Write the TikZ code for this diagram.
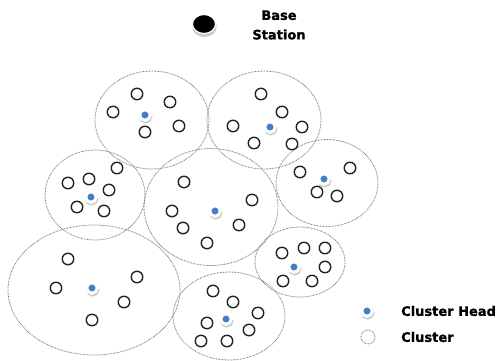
\documentclass[tikz,border=0pt]{standalone}
\usepackage{fontspec}
\setmainfont{DejaVu Sans}[BoldFeatures={FakeBold=1.2}]
\usetikzlibrary{shapes.geometric}
\definecolor{headblue}{RGB}{70,125,195}
\definecolor{ringgray}{RGB}{115,115,115}
\definecolor{nodeink}{RGB}{35,35,35}
\tikzset{
  cluster/.style={ellipse, draw=ringgray, line width=0.8pt,
    dash pattern=on 0.7pt off 0.8pt, inner sep=0pt},
  sensor/.style={circle, draw=nodeink, line width=1.4pt, fill=white,
    minimum size=11.5pt, inner sep=0pt},
  head/.style={circle, fill=headblue, draw=white, line width=3pt,
    minimum size=10.5pt, inner sep=0pt,
    preaction={draw=gray!40, fill=gray!40, line width=3pt,
      transform canvas={xshift=0.7pt, yshift=-1.8pt}}},
  basest/.style={ellipse, fill=black, draw=white, line width=1.2pt,
    minimum width=23pt, minimum height=19pt, inner sep=0pt,
    preaction={fill=gray!40, draw=gray!40, line width=1.4pt,
      transform canvas={xshift=0.5pt, yshift=-2.8pt}}},
  label/.style={font=\bfseries\fontsize{13}{19.5}\selectfont, inner sep=0pt,
    align=center},
}
\begin{document}
\begin{tikzpicture}[x=1pt,y=-1pt]
\useasboundingbox (0,0) rectangle (497,360);

% cluster boundaries
\node[cluster, minimum width=114pt, minimum height=98pt] (c1) at (152,120) {};
\node[cluster, minimum width=114pt, minimum height=98pt] (c2) at (264,120) {};
\node[cluster, minimum width=100pt, minimum height=90pt] (c3) at (95,195) {};
\node[cluster, minimum width=134pt, minimum height=117pt] (c4) at (211,207) {};
\node[cluster, minimum width=102pt, minimum height=87pt] (c5) at (327,183) {};
\node[cluster, minimum width=172pt, minimum height=130pt] (c6) at (94,290) {};
\node[cluster, minimum width=112pt, minimum height=88pt] (c7) at (229,316) {};
\node[cluster, minimum width=90pt, minimum height=70pt] (c8) at (300,262) {};

% cluster 1
\node[sensor] (s1a) at (137,94) {};
\node[sensor] (s1b) at (170,102) {};
\node[sensor] (s1c) at (113,112) {};
\node[sensor] (s1d) at (145,132) {};
\node[sensor] (s1e) at (179,126) {};
\node[head] (h1) at (145,115) {};

% cluster 2
\node[sensor] (s2a) at (261,94) {};
\node[sensor] (s2b) at (282,112) {};
\node[sensor] (s2c) at (233,126) {};
\node[sensor] (s2d) at (302,127) {};
\node[sensor] (s2e) at (254,143) {};
\node[sensor] (s2f) at (292,144) {};
\node[head] (h2) at (270,127) {};

% cluster 3
\node[sensor] (s3a) at (68,183) {};
\node[sensor] (s3b) at (89,179) {};
\node[sensor] (s3c) at (117,168) {};
\node[sensor] (s3d) at (109,190) {};
\node[sensor] (s3e) at (77,207) {};
\node[sensor] (s3f) at (104,211) {};
\node[head] (h3) at (91,197) {};

% cluster 4
\node[sensor] (s4a) at (184,182) {};
\node[sensor] (s4b) at (252,200) {};
\node[sensor] (s4c) at (172,211) {};
\node[sensor] (s4d) at (183,228) {};
\node[sensor] (s4e) at (239,225) {};
\node[sensor] (s4f) at (207,243) {};
\node[head] (h4) at (215,211) {};

% cluster 5
\node[sensor] (s5a) at (300,172) {};
\node[sensor] (s5b) at (350,168) {};
\node[sensor] (s5c) at (317,192) {};
\node[sensor] (s5d) at (337,196) {};
\node[head] (h5) at (324,179) {};

% cluster 6
\node[sensor] (s6a) at (68,259) {};
\node[sensor] (s6b) at (137,277) {};
\node[sensor] (s6c) at (56,288) {};
\node[sensor] (s6d) at (124,302) {};
\node[sensor] (s6e) at (92,320) {};
\node[head] (h6) at (92,288) {};

% cluster 7
\node[sensor] (s7a) at (213,291) {};
\node[sensor] (s7b) at (233,302) {};
\node[sensor] (s7c) at (258,313) {};
\node[sensor] (s7d) at (207,323) {};
\node[sensor] (s7e) at (249,330) {};
\node[sensor] (s7f) at (201,341) {};
\node[sensor] (s7g) at (227,341) {};
\node[head] (h7) at (226,319) {};

% cluster 8
\node[sensor] (s8a) at (282,253) {};
\node[sensor] (s8b) at (304,248) {};
\node[sensor] (s8c) at (325,248) {};
\node[sensor] (s8d) at (325,267) {};
\node[sensor] (s8e) at (283,281) {};
\node[sensor] (s8f) at (312,281) {};
\node[head] (h8) at (294,267) {};

% base station
\node[basest] (bs) at (204,24) {};
\node[label] (bstext) at (279,25) {Base\\Station};

% legend
\node[head] (lh) at (367,311) {};
\node[label, anchor=west] (lhtext) at (401,311) {Cluster Head};
\node[cluster, minimum width=14pt, minimum height=14pt] (lc) at (368,337) {};
\node[label, anchor=west] (lctext) at (401,337) {Cluster};
\end{tikzpicture}
\end{document}
